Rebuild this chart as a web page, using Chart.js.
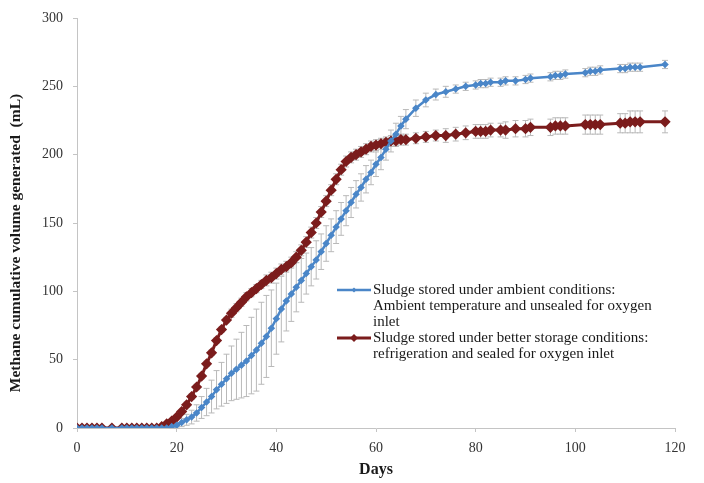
<!DOCTYPE html>
<html>
<head>
<meta charset="utf-8">
<script src="https://cdn.jsdelivr.net/npm/chart.js@4.4.1/dist/chart.umd.min.js"></script>
<style>
  html, body { margin: 0; padding: 0; background: #fff; }
  #wrap { width: 704px; height: 483px; }
</style>
</head>
<body>
<div id="wrap"><canvas id="chartLine"></canvas></div>
<script>
// sampling days
const days = [0, 1, 2, 3, 4, 5, 7, 9, 10, 11, 12, 13, 14, 15, 16, 17, 18, 19, 20,
  21, 22, 23, 24, 25, 26, 27, 28, 29, 30, 31, 32, 33, 34, 35, 36, 37, 38, 39, 40,
  41, 42, 43, 44, 45, 46, 47, 48, 49, 50, 51, 52, 53, 54, 55, 56, 57, 58, 59, 60,
  61, 62, 63, 64, 65, 66, 68, 70, 72, 74, 76, 78, 80, 81, 82, 83, 85, 86, 88, 90,
  91, 95, 96, 97, 98, 102, 103, 104, 105, 109, 110, 111, 112, 113, 118];

// ambient storage (mL)
const ambient = [0, 0, 0, 0, 0, 0, 0, 0, 0, 0, 0, 0, 0, 0, 0, 0, 0, 1, 2,
  4, 6, 8, 11, 15, 19, 23, 28, 32, 36, 40, 43, 46, 49, 53, 57, 62, 67, 73, 80,
  87, 93, 98, 103, 108, 113, 118, 123, 129, 135, 141, 147, 153, 159, 165, 171, 176, 182, 187, 193,
  198, 204, 210, 215, 221, 226, 234, 240, 244, 246, 248, 250, 251, 252, 252, 253, 253, 254, 254, 255,
  256, 257, 258, 258, 259, 260, 261, 261, 262, 263, 263, 264, 264, 264, 266];
const ambientErr = [0, 0, 0, 0, 0, 0, 0, 0, 0, 0, 0, 0, 0, 0, 0, 0, 0, 1, 2,
  3, 4, 5, 6, 8, 10, 12, 14, 16, 18, 20, 22, 24, 26, 28, 30, 30, 30, 28, 26,
  24, 22, 20, 18, 16, 15, 14, 14, 13, 13, 12, 12, 12, 11, 11, 10, 10, 10, 9, 9,
  9, 8, 8, 8, 7, 7, 6, 5, 4, 4, 3, 3, 3, 3, 3, 3, 3, 3, 3, 3,
  3, 3, 3, 3, 3, 3, 3, 3, 3, 3, 3, 3, 3, 3, 3];

// refrigerated + sealed storage (mL)
const refrig = [0, 0, 0, 0, 0, 0, 0, 0, 0, 0, 0, 0, 0, 0, 0, 1, 3, 5, 8,
  12, 17, 23, 30, 38, 47, 55, 64, 72, 79, 84, 88, 92, 96, 99, 102, 105, 108, 110, 113,
  116, 118, 121, 125, 130, 136, 143, 150, 158, 166, 174, 182, 189, 195, 198, 200, 202, 204, 206, 207,
  208, 209, 210, 210, 211, 211, 212, 213, 214, 214, 215, 216, 217, 217, 217, 218, 218, 218, 219, 219,
  220, 220, 221, 221, 221, 222, 222, 222, 222, 223, 223, 224, 224, 224, 224];
const refrigErr = [0, 0, 0, 0, 0, 0, 0, 0, 0, 0, 0, 0, 0, 0, 0, 0, 1, 1, 1,
  1, 2, 2, 2, 2, 2, 2, 2, 2, 2, 3, 3, 3, 3, 3, 3, 3, 4, 4, 4,
  4, 4, 4, 4, 4, 4, 4, 4, 4, 4, 4, 4, 4, 4, 4, 4, 4, 4, 4, 4,
  4, 4, 4, 4, 4, 4, 4, 4, 4, 5, 5, 5, 5, 5, 5, 5, 5, 6, 6, 6,
  6, 6, 6, 6, 6, 7, 7, 7, 7, 7, 7, 8, 8, 8, 8];

const labels = [
  ["Sludge stored under ambient conditions:", "Ambient temperature and unsealed for oxygen", "inlet"],
  ["Sludge stored under better storage conditions:", "refrigeration and sealed for oxygen inlet"]
];
const yTitle = "Methane cumulative volume generated  (mL)";

const serif = "'Liberation Serif', 'Times New Roman', serif";

const errorBars = {
  id: "errorBars",
  beforeDatasetsDraw(chart) {
    const ctx = chart.ctx;
    const xs = chart.scales.x, ys = chart.scales.y;
    ctx.save();
    ctx.strokeStyle = "#b9b9b9";
    ctx.lineWidth = 1;
    chart.data.datasets.forEach((ds) => {
      ds.err.forEach((e, i) => {
        if (!e) return;
        const px = xs.getPixelForValue(ds.data[i].x);
        const top = ys.getPixelForValue(ds.data[i].y + e);
        const bot = ys.getPixelForValue(ds.data[i].y - e);
        ctx.beginPath();
        ctx.moveTo(px, top); ctx.lineTo(px, bot);
        ctx.moveTo(px - 3, top); ctx.lineTo(px + 3, top);
        ctx.moveTo(px - 3, bot); ctx.lineTo(px + 3, bot);
        ctx.stroke();
      });
    });
    ctx.restore();
  },
};

// legend box inside the plot + the y axis title (sits a bit low, like the original)
const boxLegend = {
  id: "boxLegend",
  afterDraw(chart) {
    const ctx = chart.ctx;
    ctx.save();
    ctx.font = "15px " + serif;
    ctx.textBaseline = "middle";
    let y = 290;
    chart.data.datasets.forEach((ds, k) => {
      ctx.strokeStyle = ds.borderColor;
      ctx.fillStyle = ds.borderColor;
      ctx.lineWidth = ds.borderWidth;
      ctx.beginPath();
      ctx.moveTo(337, y); ctx.lineTo(371, y);
      ctx.stroke();
      const r = ds.pointRadius + 0.5;
      ctx.beginPath();
      ctx.moveTo(354, y - r); ctx.lineTo(354 + r, y); ctx.lineTo(354, y + r); ctx.lineTo(354 - r, y);
      ctx.closePath();
      ctx.fill();
      ctx.fillStyle = "#1a1a1a";
      labels[k].forEach((t) => {
        ctx.fillText(t, 373, y);
        y += 16;
      });
    });

    ctx.translate(16, 243);
    ctx.rotate(-Math.PI / 2);
    ctx.font = "bold 15.5px " + serif;
    ctx.textAlign = "center";
    ctx.fillStyle = "#1a1a1a";
    ctx.fillText(yTitle, 0, 0);
    ctx.restore();
  },
};

function toPoints(ys) {
  return ys.map((v, i) => ({ x: days[i], y: v }));
}

var ctxLine = document.getElementById("chartLine");

new Chart(ctxLine, {
  type: "line",
  data: {
    datasets: [
      {
        label: "ambient",
        data: toPoints(ambient),
        err: ambientErr,
        borderColor: "#4a86c8",
        backgroundColor: "#4a86c8",
        borderWidth: 2.5,
        pointStyle: "rectRot",
        pointRadius: 2,
        tension: 0,
      },
      {
        label: "refrigerated",
        data: toPoints(refrig),
        err: refrigErr,
        borderColor: "#7b1c1c",
        backgroundColor: "#7b1c1c",
        borderWidth: 3,
        pointStyle: "rectRot",
        pointRadius: 3.5,
        tension: 0,
      },
    ],
  },
  plugins: [errorBars, boxLegend],
  options: {
    responsive: true,
    maintainAspectRatio: false,
    animation: false,
    layout: { padding: { top: 18, right: 29, left: 0, bottom: 0 } },
    plugins: {
      legend: { display: false },
      tooltip: { enabled: false },
    },
    scales: {
      x: {
        type: "linear",
        min: 0,
        max: 120,
        ticks: { stepSize: 20, color: "#333", font: { family: serif, size: 14 }, padding: 8 },
        grid: { drawOnChartArea: false, drawTicks: true, tickLength: 4, color: "#c4c4c4" },
        border: { color: "#c4c4c4" },
        title: { display: true, text: "Days", color: "#1a1a1a", font: { family: serif, size: 16, weight: "bold" }, padding: { top: 4 } },
        afterFit(scale) {
          scale.height = 55;
          scale.paddingRight = 0;
          scale.paddingLeft = 0;
        },
      },
      y: {
        min: 0,
        max: 300,
        ticks: { stepSize: 50, color: "#333", font: { family: serif, size: 14 }, padding: 10 },
        grid: { drawOnChartArea: false, drawTicks: true, tickLength: 4, color: "#c4c4c4" },
        border: { color: "#c4c4c4" },
        afterFit(scale) {
          scale.width = 77;
          scale.paddingTop = 0;
          scale.paddingBottom = 0;
        },
      },
    },
  },
});
</script>
</body>
</html>
